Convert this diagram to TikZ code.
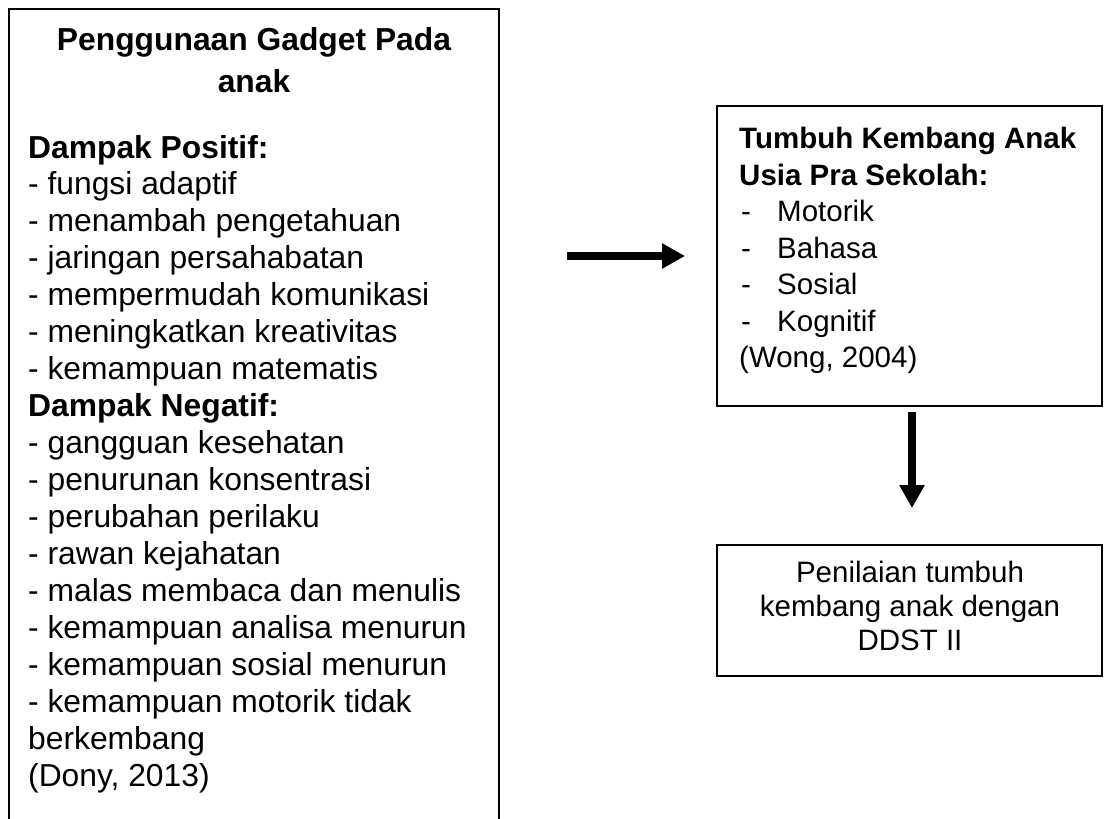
\documentclass[tikz,border=0pt]{standalone}
\usepackage{fontspec}
\setmainfont{Liberation Sans}
\usetikzlibrary{arrows.meta}
\begin{document}
\begin{tikzpicture}[x=1pt,y=-1pt,
  box/.style={draw, line width=1.3pt, inner sep=0pt, outer sep=0pt, anchor=north west},
  lefttxt/.style={font=\fontsize{31.8}{37}\selectfont, anchor=base west, inner sep=0pt},
  titletxt/.style={font=\fontsize{31.8}{37}\selectfont\bfseries, anchor=base, inner sep=0pt},
  righttxt/.style={font=\fontsize{29.5}{36}\selectfont, anchor=base west, inner sep=0pt},
  centtxt/.style={font=\fontsize{29.5}{36}\selectfont, anchor=base, inner sep=0pt},
  bigarrow/.style={line width=7.7pt, -{Triangle[length=23pt,width=24pt]}}]
\useasboundingbox (0,0) rectangle (1104,819);
\clip (0,0) rectangle (1104,819);
% boxes
\node[box, minimum width=490pt, minimum height=840pt] (L) at (9,9) {};
\node[box, minimum width=385pt, minimum height=300pt] (B1) at (717,106) {};
\node[box, minimum width=385pt, minimum height=131pt] (B2) at (717,545) {};
% left box text
\node[titletxt] (t1) at (254,50) {Penggunaan Gadget Pada};
\node[titletxt] (t2) at (254,92) {anak};
\foreach \t [count=\i from 0] in {
  {\bfseries Dampak Positif:},
  {- fungsi adaptif},
  {- menambah pengetahuan},
  {- jaringan persahabatan},
  {- mempermudah komunikasi},
  {- meningkatkan kreativitas},
  {- kemampuan matematis},
  {\bfseries Dampak Negatif:},
  {- gangguan kesehatan},
  {- penurunan konsentrasi},
  {- perubahan perilaku},
  {- rawan kejahatan},
  {- malas membaca dan menulis},
  {- kemampuan analisa menurun},
  {- kemampuan sosial menurun},
  {- kemampuan motorik tidak},
  {berkembang},
  {(Dony, 2013)}}
  \node[lefttxt] (l\i) at (28,{158+36.95*\i}) {\t};
% right box 1 text
\node[righttxt, font=\fontsize{29.5}{36}\selectfont\bfseries] (r1) at (739,148.5) {Tumbuh Kembang Anak};
\node[righttxt, font=\fontsize{29.5}{36}\selectfont\bfseries] (r2) at (739,185) {Usia Pra Sekolah:};
\foreach \t [count=\i from 0] in {Motorik, Bahasa, Sosial, Kognitif} {
  \node[righttxt] (d\i) at (741,{221.5+36.5*\i}) {-};
  \node[righttxt] (m\i) at (777,{221.5+36.5*\i}) {\t};
}
\node[righttxt] (r7) at (739,367.5) {(Wong, 2004)};
% right box 2 text
\node[centtxt] (p1) at (910,582) {Penilaian tumbuh};
\node[centtxt] (p2) at (910,616) {kembang anak dengan};
\node[centtxt] (p3) at (910,650) {DDST II};
% arrows
\draw[bigarrow, shorten <=68pt, shorten >=32pt] (L.east |- B1.west) -- (B1.west);
\draw[bigarrow, shorten <=6pt, shorten >=37pt] ([xshift=2.5pt]B1.south) -- ([xshift=2.5pt]B2.north);
\end{tikzpicture}
\end{document}
